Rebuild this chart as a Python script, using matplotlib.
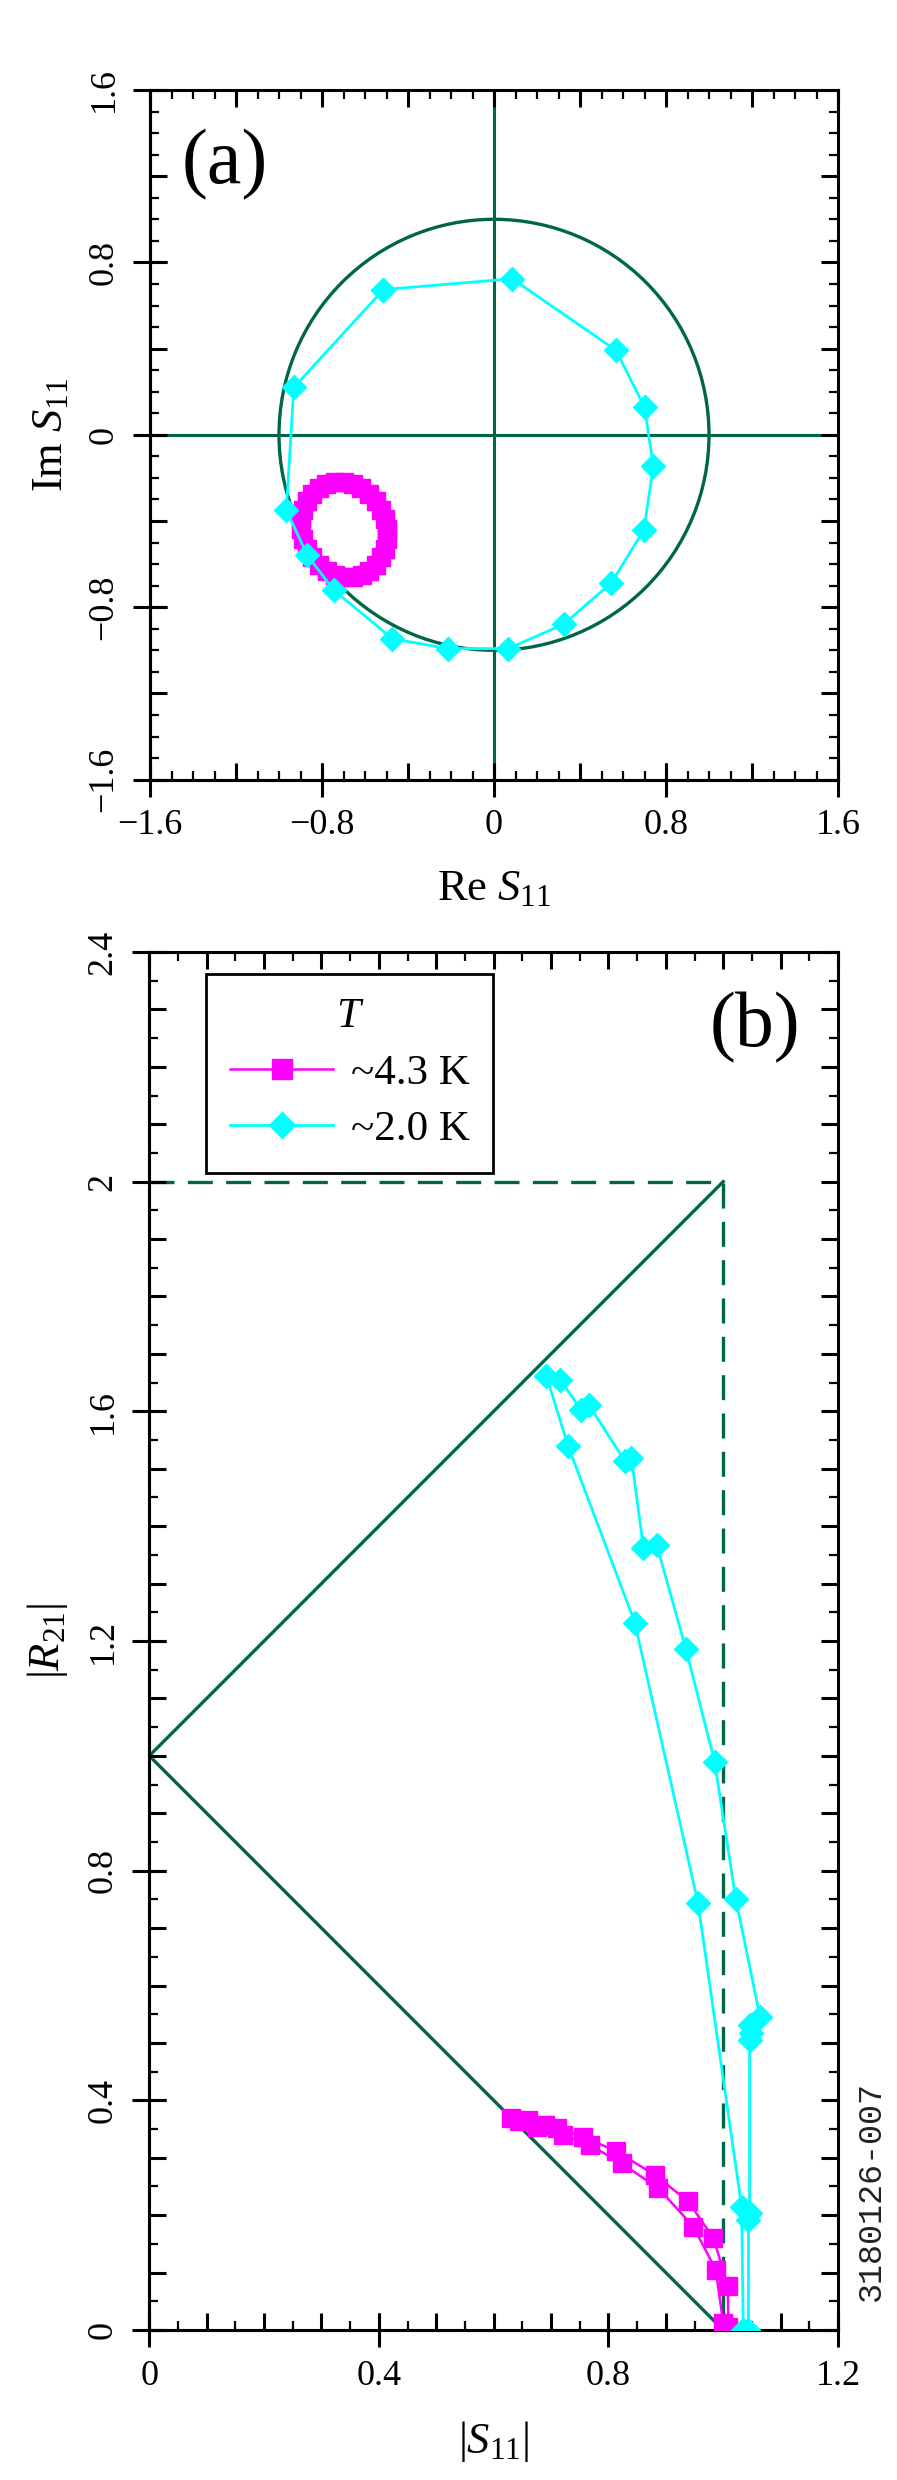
import numpy as np
import matplotlib
matplotlib.use("Agg")
import matplotlib.pyplot as plt
from matplotlib.patches import Circle
from matplotlib.ticker import MultipleLocator, NullLocator

plt.rcParams['font.family'] = ['Liberation Serif', 'DejaVu Serif']
plt.rcParams['mathtext.fontset'] = 'custom'
plt.rcParams['mathtext.rm'] = 'Liberation Serif'
plt.rcParams['mathtext.it'] = 'Liberation Serif:italic'

MAG = '#ff00ff'
CYAN = '#00ffff'
GREEN = '#00664a'

# (a) complex S11, ~2.0 K (closed loop)
cold_re = [-0.514, 0.085, 0.567, 0.700, 0.741, 0.697, 0.546, 0.324, 0.067, -0.216,
           -0.473, -0.745, -0.869, -0.966, -0.931, -0.514]
cold_im = [0.674, 0.724, 0.392, 0.129, -0.147, -0.442, -0.687, -0.879, -0.992, -0.992,
           -0.946, -0.721, -0.558, -0.349, 0.220, 0.674]

# (a) complex S11, ~4.3 K (small ring)
warm_re = [-0.500, -0.509, -0.526, -0.551, -0.582, -0.618, -0.658, -0.699, -0.741, -0.780,
           -0.816, -0.846, -0.871, -0.888, -0.897, -0.896, -0.887, -0.870, -0.845, -0.814,
           -0.778, -0.738, -0.697, -0.655, -0.616, -0.580, -0.550, -0.525, -0.508, -0.499, -0.500]
warm_im = [-0.439, -0.393, -0.349, -0.309, -0.275, -0.248, -0.229, -0.219, -0.219, -0.229,
           -0.248, -0.275, -0.309, -0.349, -0.393, -0.439, -0.485, -0.529, -0.569, -0.603,
           -0.630, -0.649, -0.659, -0.659, -0.649, -0.630, -0.603, -0.569, -0.529, -0.485, -0.439]

# (b) |S11| vs |R21|
warm_s = [1.000, 0.987, 0.948, 0.887, 0.823, 0.768, 0.720, 0.675, 0.645, 0.630,
          0.660, 0.690, 0.710, 0.756, 0.814, 0.881, 0.939, 0.983, 1.008, 1.009]
warm_r = [0.012, 0.105, 0.180, 0.247, 0.290, 0.322, 0.340, 0.353, 0.364, 0.370,
          0.366, 0.357, 0.351, 0.337, 0.311, 0.270, 0.224, 0.160, 0.077, 0.006]

cold_s = [1.035, 1.032, 0.956, 0.846, 0.730, 0.692, 0.716, 0.752, 0.766, 0.829, 0.840,
          0.861, 0.884, 0.935, 0.985, 1.022, 1.064, 1.046, 1.049, 1.046, 1.046, 1.044, 1.044]
cold_r = [0.000, 0.215, 0.744, 1.232, 1.539, 1.661, 1.655, 1.603, 1.611, 1.513, 1.519,
          1.362, 1.368, 1.186, 0.990, 0.750, 0.546, 0.532, 0.517, 0.505, 0.203, 0.192, 0.000]

# bounds drawn in (b)
solid_s = [1.0, 0.0, 1.0]
solid_r = [2.0, 1.0, 0.0]
dash_s = [0.0, 1.0, 1.0]
dash_r = [2.0, 2.0, 0.0]

a_ticks = [-1.6, -0.8, 0, 0.8, 1.6]
a_labels = ['\u22121.6', '\u22120.8', '0', '0.8', '1.6']
b_xticks = [0, 0.4, 0.8, 1.2]
b_xlabels = ['0', '0.4', '0.8', '1.2']
b_yticks = [0, 0.4, 0.8, 1.2, 1.6, 2.0, 2.4]
b_ylabels = ['0', '0.4', '0.8', '1.2', '1.6', '2', '2.4']
legend_labels = ['~4.3 K', '~2.0 K']


def setup(ax, mx, my, nx, ny, xt, xl, yt, yl, xlab, ylab):
    for s in ax.spines.values():
        s.set_linewidth(2.2)
    ax.xaxis.set_major_locator(MultipleLocator(mx))
    ax.xaxis.set_minor_locator(MultipleLocator(nx))
    ax.yaxis.set_major_locator(MultipleLocator(my))
    ax.yaxis.set_minor_locator(MultipleLocator(ny))
    ax.tick_params(which='both', direction='in', top=True, right=True,
                   labelbottom=False, labelleft=False)
    ax.tick_params(which='major', length=12.2, width=2.2)
    ax.tick_params(which='minor', length=6.5, width=1.6)

    sx = ax.secondary_xaxis('bottom')
    sx.set_xticks(xt, labels=xl)
    sx.xaxis.set_minor_locator(NullLocator())
    sx.tick_params(direction='inout', length=24.5, width=2.2, labelsize=26, pad=9)
    sx.spines['bottom'].set_linewidth(2.2)
    sx.set_xlabel(xlab, fontsize=32, labelpad=19)

    sy = ax.secondary_yaxis('left')
    sy.set_yticks(yt, labels=yl)
    sy.yaxis.set_minor_locator(NullLocator())
    sy.tick_params(direction='inout', length=24.5, width=2.2, labelsize=26, pad=9)
    sy.spines['left'].set_linewidth(2.2)
    for t in sy.get_yticklabels():
        t.set_rotation(90)
        t.set_va('center')
    sy.set_ylabel(ylab, fontsize=32, labelpad=12)


fig = plt.figure(figsize=(8.97, 24.8), dpi=100)

# ---- panel (a)
ax = fig.add_axes([150 / 897, 1 - 779.6 / 2480, 688 / 897, 689.6 / 2480])
ax.set_xlim(-1.6, 1.6)
ax.set_ylim(-1.6, 1.6)
ax.axhline(0, color=GREEN, lw=2.2, zorder=1)
ax.axvline(0, color=GREEN, lw=2.2, zorder=1)
ax.add_patch(Circle((0, 0), 1.0, fill=False, ec=GREEN, lw=2.4, zorder=1))
ax.plot(warm_re, warm_im, '-s', color=MAG, ms=13, mec=MAG, lw=1.5, zorder=3)
ax.plot(cold_re, cold_im, '-D', color=CYAN, ms=12, mec=CYAN, lw=2.0, zorder=4)
ax.text(-1.251, 1.256, '(a)', fontsize=56, ha='center', va='center')
setup(ax, 0.4, 0.4, 0.1, 0.1, a_ticks, a_labels, a_ticks, a_labels,
      r'Re $S_{11}$', r'Im $S_{11}$')

# ---- panel (b)
ax = fig.add_axes([149.3 / 897, 1 - 2330 / 2480, 688.7 / 897, 1378 / 2480])
ax.set_xlim(0, 1.2)
ax.set_ylim(0, 2.4)
ax.plot(solid_s, solid_r, '-', color=GREEN, lw=2.4, zorder=1)
ax.plot(dash_s, dash_r, '--', color=GREEN, lw=2.4, dashes=(7.5, 4), zorder=1)
l1, = ax.plot(warm_s, warm_r, '-s', color=MAG, ms=13, mec=MAG, lw=1.8, zorder=3)
l2, = ax.plot(cold_s, cold_r, '-D', color=CYAN, ms=12, mec=CYAN, lw=2.0, zorder=4)
ax.text(1.055, 2.269, '(b)', fontsize=56, ha='center', va='center')
leg = ax.legend([l1, l2], legend_labels, title='$T$', fontsize=31, title_fontsize=31,
                loc='upper left', bbox_to_anchor=(0.083, 0.984), borderaxespad=0,
                fancybox=False, framealpha=1, edgecolor='black', handlelength=2.4,
                handletextpad=0.4, borderpad=0.55, labelspacing=0.4, markerscale=1.1)
leg.get_frame().set_linewidth(2.0)
setup(ax, 0.1, 0.1, 0.05, 0.05, b_xticks, b_xlabels, b_yticks, b_ylabels,
      r'$|S_{11}|$', r'$|R_{21}|$')

fig.text(0.971, 0.072, '3180126-007', rotation=90, ha='center', va='bottom',
         family='Liberation Mono', fontsize=24, color='#222222')

fig.savefig('out.png', dpi=100)
